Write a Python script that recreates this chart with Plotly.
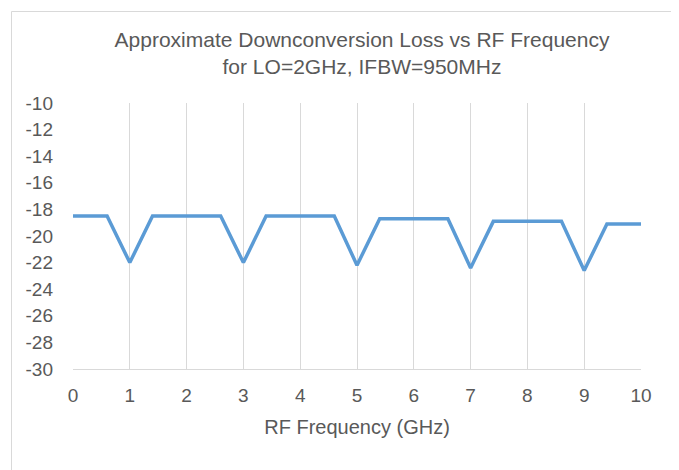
import plotly.graph_objects as go

# Data
rf_freq_ghz = [0, 0.6, 1, 1.4, 2.6, 3, 3.4, 4.6, 5, 5.4, 6.6, 7, 7.4, 8.6, 9, 9.4, 10]
loss_db = [-18.5, -18.5, -22.0, -18.5, -18.5, -22.0, -18.5, -18.5, -22.2, -18.7,
           -18.7, -22.4, -18.9, -18.9, -22.6, -19.1, -19.1]
x_ticks = list(range(0, 11))
y_ticks = list(range(-30, -9, 2))

title_text = "Approximate Downconversion Loss vs RF Frequency<br>for LO=2GHz, IFBW=950MHz"
x_title = "RF Frequency (GHz)"

FONT = "Liberation Sans, Arial, sans-serif"
TXT = "#595959"

fig = go.Figure()
fig.add_trace(go.Scatter(
    x=rf_freq_ghz, y=loss_db, mode="lines",
    line=dict(color="#5B9BD5", width=3.5),
    showlegend=False, hoverinfo="skip",
))

# page body has an 8px margin; figure sized to fill the rest of the window
OFF = 8
W, H = 679 - OFF, 470 - OFF
L, T = 73 - OFF, 103 - OFF
R = W - (641 - OFF)
B = H - (369 - OFF)
pw, ph = W - L - R, H - T - B

def px_x(p):
    return (p - OFF - L) / pw

def px_y(p):
    return (H - B - (p - OFF)) / ph

fig.update_layout(
    width=W, height=H,
    margin=dict(l=L, r=R, t=T, b=B, autoexpand=False),
    paper_bgcolor="white", plot_bgcolor="white",
    font=dict(family=FONT, color=TXT, size=18),
    title=dict(
        text=title_text, xref="container", yref="container",
        x=(362 - OFF) / W, xanchor="center", y=1 - 39 / H, yanchor="top",
        font=dict(family=FONT, color=TXT, size=21),
    ),
    xaxis=dict(
        range=[0, 10], tickvals=x_ticks, ticktext=[str(v) for v in x_ticks],
        showgrid=True, gridcolor="#D9D9D9", gridwidth=1,
        showline=True, linecolor="#D9D9D9", linewidth=1,
        zeroline=False, ticks="", ticklabelstandoff=9,
        tickfont=dict(size=19, color=TXT, family=FONT),
        title=dict(text=x_title, standoff=15, font=dict(size=20, color=TXT, family=FONT)),
    ),
    yaxis=dict(
        range=[-30, -10], tickvals=y_ticks, ticktext=[str(v) for v in y_ticks],
        showgrid=False, showline=False, zeroline=False, ticks="",
        ticklabelstandoff=19,
        tickfont=dict(size=19, color=TXT, family=FONT),
    ),
    shapes=[dict(
        type="rect", xref="paper", yref="paper",
        x0=px_x(11.5), x1=px_x(675.5), y0=px_y(490), y1=px_y(11.5),
        line=dict(color="#D9D9D9", width=1), fillcolor="rgba(0,0,0,0)", layer="below",
    )],
)

fig.write_html("out.html")
